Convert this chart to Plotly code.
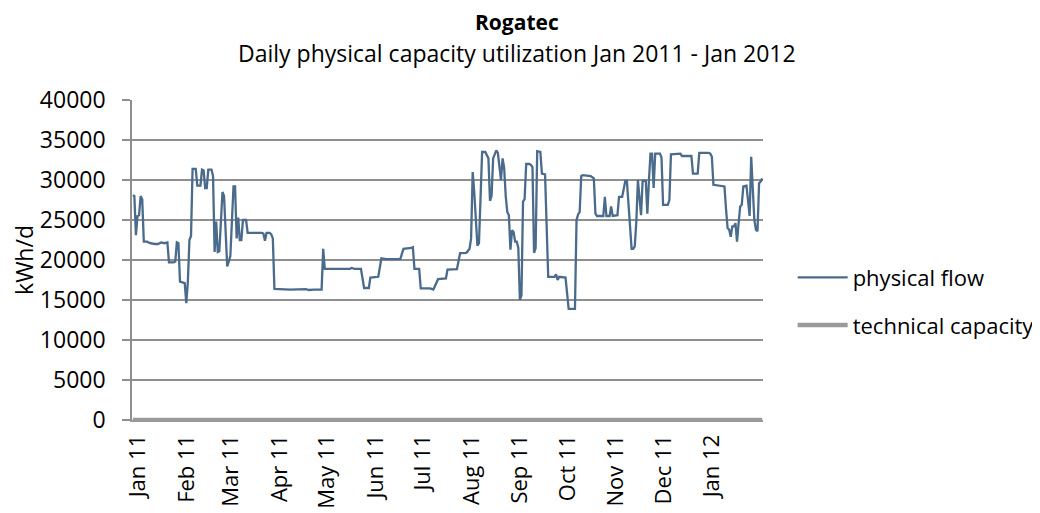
import plotly.graph_objects as go

# ---- data ----
flow_dates = [
    "2011-01-01", "2011-01-02", "2011-01-03", "2011-01-04", "2011-01-05", "2011-01-06", "2011-01-07",
    "2011-01-08", "2011-01-10", "2011-01-12", "2011-01-15", "2011-01-17", "2011-01-19", "2011-01-21",
    "2011-01-23", "2011-01-24", "2011-01-27", "2011-01-28", "2011-01-29", "2011-01-30", "2011-01-31",
    "2011-02-02", "2011-02-03", "2011-02-04", "2011-02-05", "2011-02-06", "2011-02-07", "2011-02-08",
    "2011-02-10", "2011-02-11", "2011-02-13", "2011-02-14", "2011-02-15", "2011-02-16", "2011-02-17",
    "2011-02-18", "2011-02-20", "2011-02-21", "2011-02-22", "2011-02-23", "2011-02-24", "2011-02-25",
    "2011-02-27", "2011-02-28", "2011-03-02", "2011-03-03", "2011-03-04", "2011-03-06", "2011-03-07",
    "2011-03-08", "2011-03-09", "2011-03-10", "2011-03-11", "2011-03-12", "2011-03-14", "2011-03-15",
    "2011-03-24", "2011-03-25", "2011-03-26", "2011-03-27", "2011-03-29", "2011-03-30", "2011-03-31",
    "2011-04-01", "2011-04-11", "2011-04-21", "2011-04-23", "2011-04-26", "2011-05-01", "2011-05-02",
    "2011-05-03", "2011-05-19", "2011-05-20", "2011-05-22", "2011-05-26", "2011-05-28", "2011-05-31",
    "2011-06-01", "2011-06-06", "2011-06-08", "2011-06-11", "2011-06-20", "2011-06-22", "2011-06-27",
    "2011-06-28", "2011-06-29", "2011-07-02", "2011-07-03", "2011-07-09", "2011-07-11", "2011-07-14",
    "2011-07-19", "2011-07-20", "2011-07-26", "2011-07-28", "2011-08-01", "2011-08-03", "2011-08-04",
    "2011-08-05", "2011-08-06", "2011-08-08", "2011-08-09", "2011-08-11", "2011-08-13", "2011-08-15",
    "2011-08-16", "2011-08-17", "2011-08-18", "2011-08-20", "2011-08-21", "2011-08-23", "2011-08-24",
    "2011-08-25", "2011-08-26", "2011-08-27", "2011-08-28", "2011-08-29", "2011-08-30", "2011-08-31",
    "2011-09-01", "2011-09-02", "2011-09-03", "2011-09-04", "2011-09-05", "2011-09-06", "2011-09-07",
    "2011-09-08", "2011-09-10", "2011-09-11", "2011-09-12", "2011-09-13", "2011-09-14", "2011-09-15",
    "2011-09-17", "2011-09-18", "2011-09-20", "2011-09-22", "2011-09-26", "2011-09-27", "2011-09-28",
    "2011-09-29", "2011-10-03", "2011-10-05", "2011-10-09", "2011-10-10", "2011-10-11", "2011-10-12",
    "2011-10-13", "2011-10-14", "2011-10-19", "2011-10-21", "2011-10-22", "2011-10-23", "2011-10-27",
    "2011-10-28", "2011-10-29", "2011-10-31", "2011-11-01", "2011-11-02", "2011-11-05", "2011-11-06",
    "2011-11-08", "2011-11-10", "2011-11-11", "2011-11-13", "2011-11-14", "2011-11-15", "2011-11-16",
    "2011-11-17", "2011-11-18", "2011-11-20", "2011-11-21", "2011-11-23", "2011-11-24", "2011-11-25",
    "2011-11-26", "2011-11-27", "2011-11-28", "2011-11-29", "2011-12-02", "2011-12-03", "2011-12-04",
    "2011-12-07", "2011-12-08", "2011-12-09", "2011-12-15", "2011-12-16", "2011-12-22", "2011-12-23",
    "2011-12-26", "2011-12-27", "2012-01-02", "2012-01-03", "2012-01-04", "2012-01-05", "2012-01-11",
    "2012-01-12", "2012-01-13", "2012-01-14", "2012-01-15", "2012-01-16", "2012-01-17", "2012-01-18",
    "2012-01-19", "2012-01-20", "2012-01-21", "2012-01-22", "2012-01-23", "2012-01-24", "2012-01-26",
    "2012-01-28", "2012-01-29", "2012-01-30", "2012-01-31", "2012-02-01", "2012-02-02", "2012-02-03",
    "2012-02-04", "2012-02-05",
]
flow_values = [
    28100, 28000, 23100, 25500, 25600, 28000, 27600,
    22300, 22300, 22100, 22000, 22000, 22200, 22100,
    22200, 19700, 19700, 19800, 22200, 22100, 17300,
    17200, 17100, 14600, 17300, 22500, 23000, 31400,
    31400, 29300, 29300, 31300, 31200, 29000, 29000,
    31300, 31300, 30500, 21000, 24800, 21000, 21100,
    28500, 28000, 19200, 19800, 20500, 29200, 29200,
    22700, 25300, 22500, 22500, 25000, 25000, 23400,
    23400, 23300, 22400, 23400, 23400, 23200, 22700,
    16400, 16300, 16350, 16250, 16300, 16300, 21400,
    18900, 18900, 19000, 18900, 18900, 16500, 16500,
    17800, 17900, 20200, 20100, 20100, 21400, 21500,
    21600, 18900, 18900, 16450, 16450, 16300, 17600,
    17700, 18800, 18850, 20850, 20900, 21400, 22700,
    31000, 28500, 21800, 22100, 33500, 33500, 32700,
    27400, 28000, 32700, 33700, 33400, 30000, 32700,
    31500, 28000, 26000, 25600, 21300, 23700, 23500,
    22300, 22300, 21500, 15000, 15600, 27300, 27600,
    32000, 32000, 31900, 31600, 20900, 21500, 33600,
    33500, 30800, 30700, 17900, 17900, 18200, 17500,
    17900, 17800, 13900, 13900, 25000, 25700, 26000,
    30500, 30600, 30500, 30200, 25800, 25500, 25500,
    27900, 25500, 25500, 26700, 25500, 25600, 27900,
    27900, 29900, 29900, 24400, 21400, 21400, 21700,
    24800, 30000, 25600, 29900, 29900, 25800, 29900,
    33300, 33300, 29000, 33300, 33300, 32800, 26900,
    26900, 27500, 33200, 33300, 33000, 33000, 30800,
    30800, 33400, 33400, 33300, 32900, 29400, 29300,
    29200, 26400, 24000, 23800, 22900, 24200, 24200,
    24600, 22300, 24600, 26700, 26900, 29200, 29300,
    25500, 32900, 28500, 25000, 23800, 23600, 29600,
    29800, 30200,
]
capacity_dates = ["2011-01-01", "2012-02-05"]
capacity_values = [0, 0]

tick_dates = [
    "2011-01-01", "2011-02-01", "2011-03-01", "2011-04-01", "2011-05-01", "2011-06-01", "2011-07-01",
    "2011-08-01", "2011-09-01", "2011-10-01", "2011-11-01", "2011-12-01", "2012-01-01",
]
tick_labels = [
    "Jan 11", "Feb 11", "Mar 11", "Apr 11", "May 11", "Jun 11", "Jul 11",
    "Aug 11", "Sep 11", "Oct 11", "Nov 11", "Dec 11", "Jan 12",
]

title_text = "Rogatec"
subtitle_text = "Daily physical capacity utilization Jan 2011 - Jan 2012"
y_title = "kWh/d"

FONT = "Open Sans"
GRID = "#8f8f8f"
CAP = "#9a9a9a"

fig = go.Figure()
fig.add_trace(go.Scatter(
    x=flow_dates, y=flow_values, mode="lines", name="physical flow",
    line=dict(color="#4a6b8b", width=2.3), legendgroup="a",
))
fig.add_trace(go.Scatter(
    x=capacity_dates, y=capacity_values, mode="lines", name="technical capacity",
    line=dict(color=CAP, width=4.5), legendgroup="b",
))

# the page body adds an 8px offset, so the figure is sized to fit the window
fig.update_layout(
    width=1032, height=505,
    margin=dict(l=124, r=277, t=92, b=93, autoexpand=False),
    paper_bgcolor="white", plot_bgcolor="white",
    font=dict(family=FONT, size=22, color="black"),
    showlegend=True,
    legend=dict(
        x=1.047, xanchor="left", y=0.37, yanchor="middle",
        font=dict(size=22), tracegroupgap=16, itemwidth=50,
        bgcolor="rgba(0,0,0,0)",
    ),
    annotations=[
        dict(text="<b>" + title_text + "</b>", xref="paper", yref="paper",
             x=0.61, y=1.245, xanchor="center", yanchor="middle",
             showarrow=False, font=dict(size=21, family=FONT)),
        dict(text=subtitle_text, xref="paper", yref="paper",
             x=0.61, y=1.148, xanchor="center", yanchor="middle",
             showarrow=False, font=dict(size=23, family=FONT)),
    ],
)

fig.update_xaxes(
    type="date", automargin=False,
    range=["2010-12-31 12:00", "2012-02-05 12:00"],
    tickmode="array", tickvals=tick_dates, ticktext=tick_labels,
    tickangle=-90, ticks="", showgrid=False, zeroline=False,
    showline=True, linecolor=CAP, linewidth=2,
    ticklabelshift=5, ticklabelstandoff=4,
    tickfont=dict(size=22),
)
fig.update_yaxes(
    automargin=False,
    range=[0, 40000], dtick=5000, tick0=0, tickformat="d",
    showgrid=True, gridcolor=GRID, gridwidth=1.6,
    zeroline=False, showline=True, linecolor=GRID, linewidth=1.6,
    ticks="outside", ticklen=8, tickcolor=GRID, tickwidth=1.6,
    ticklabelstandoff=12, tickfont=dict(size=23),
    title=dict(text=y_title, standoff=2, font=dict(size=23)),
)

fig.write_html("out.html")
